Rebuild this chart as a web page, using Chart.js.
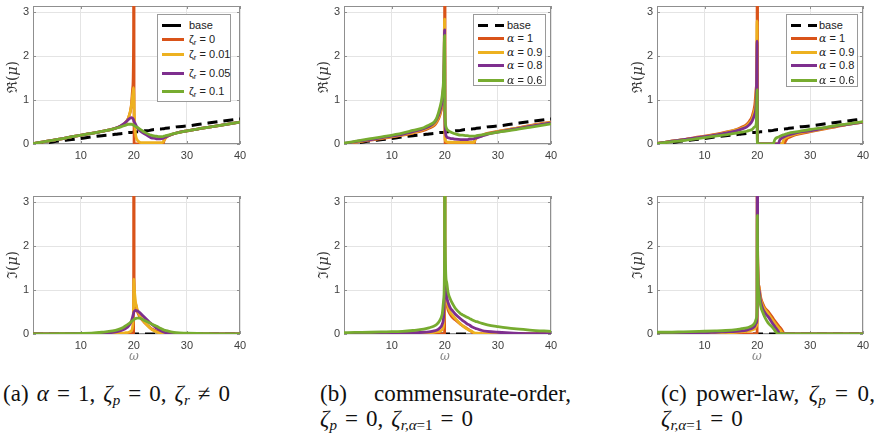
<!DOCTYPE html>
<html>
<head>
<meta charset="utf-8">
<title>Re and Im of mu</title>
<script src="https://cdn.jsdelivr.net/npm/chart.js@4.4.1/dist/chart.umd.min.js"></script>
<style>
  body { margin: 0; background: #fff; }
  #fig { position: relative; width: 886px; height: 436px; overflow: hidden; background: #fff; }
  #fig canvas { position: absolute; }
  .ylab { position: absolute; font-family: 'DejaVu Serif', serif; font-size: 14px; color: #333;
          transform: translate(-50%, -50%) rotate(-90deg); white-space: nowrap; }
  .xlab { position: absolute; top: 349px; font-family: 'DejaVu Serif', serif; font-style: italic;
          font-size: 12px; color: #888; transform: translateX(-50%); }
  .legend { position: absolute; box-sizing: border-box; background: #fff; border: 1px solid #9a9a9a;
            font-family: 'Liberation Sans', Arial, sans-serif; font-size: 11px; color: #222; }
  .legend .row { position: absolute; left: 0; right: 0; height: 0; }
  .legend .sw { position: absolute; height: 3px; top: -1px; }
  .legend .tx { position: absolute; top: -7px; line-height: 14px; white-space: nowrap; }
  .legend sub { font-size: 8px; vertical-align: -2px; line-height: 0; }
  .legend .gk { font-family: 'DejaVu Serif', serif; font-style: italic; }
  .cap { position: absolute; font-family: 'Liberation Serif', serif; font-size: 23px; line-height: 24px;
         letter-spacing: 0.1px; word-spacing: 2px; color: #111; white-space: nowrap; }
  .cap sub { font-size: 15px; vertical-align: -4px; line-height: 0; letter-spacing: 0; }
  .cap .op { margin: 0 8px; }
  .just { display: flex; justify-content: space-between; }
</style>
</head>
<body>
<div id="fig">
  <canvas id="a1" width="250" height="165" style="left:0px;top:0px"></canvas>
  <canvas id="a2" width="250" height="165" style="left:0px;top:190px"></canvas>
  <canvas id="b1" width="250" height="165" style="left:311px;top:0px"></canvas>
  <canvas id="b2" width="250" height="165" style="left:311px;top:190px"></canvas>
  <canvas id="c1" width="249" height="165" style="left:624px;top:0px"></canvas>
  <canvas id="c2" width="249" height="165" style="left:624px;top:190px"></canvas>

  <div class="ylab" style="left:11px;top:77px">ℜ(<i>μ</i>)</div>
  <div class="ylab" style="left:11px;top:265px">ℑ(<i>μ</i>)</div>
  <div class="ylab" style="left:322px;top:77px">ℜ(<i>μ</i>)</div>
  <div class="ylab" style="left:322px;top:265px">ℑ(<i>μ</i>)</div>
  <div class="ylab" style="left:636px;top:77px">ℜ(<i>μ</i>)</div>
  <div class="ylab" style="left:636px;top:265px">ℑ(<i>μ</i>)</div>

  <div class="xlab" style="left:134px">ω</div>
  <div class="xlab" style="left:445px">ω</div>
  <div class="xlab" style="left:757px">ω</div>

  <div class="cap" style="left:3px;top:382px">(a) <i>α</i><span class="op">=</span>1, <i>ζ<sub>p</sub></i><span class="op">=</span>0, <i>ζ<sub>r</sub></i><span class="op">≠</span>0</div>
  <div class="cap just" style="left:320px;top:382px;width:251px"><span>(b)</span><span>commensurate-order,</span></div>
  <div class="cap" style="left:320px;top:407px"><i>ζ<sub>p</sub></i><span class="op">=</span>0, <i>ζ</i><sub><i>r,α</i>=1</sub><span class="op">=</span>0</div>
  <div class="cap just" style="left:661px;top:382px;width:214px"><span>(c)</span><span>power-law,</span><span><i>ζ<sub>p</sub></i></span><span>=</span><span>0,</span></div>
  <div class="cap" style="left:661px;top:407px"><i>ζ</i><sub><i>r,α</i>=1</sub><span class="op">=</span>0</div>
</div>

<script>
// frequency grid (omega) shared by every curve
const omega = [1, 3, 6, 9, 12, 14, 16, 17, 18, 18.5, 19, 19.5, 19.8, 19.95, 20, 20.05, 20.3, 20.6,
               21, 21.5, 22, 23, 23.3, 24, 24.2, 24.7, 25, 25.5, 25.7, 26, 27, 28, 30, 33, 36, 40];

// base (no resonator)
const baseRe = [0.0, 0.02, 0.07, 0.11, 0.16, 0.19, 0.21, 0.23, 0.24, 0.25, 0.26, 0.26, 0.27, 0.27, 0.27, 0.27, 0.27, 0.28,
                0.28, 0.29, 0.30, 0.31, 0.32, 0.33, 0.33, 0.34, 0.34, 0.35, 0.35, 0.36, 0.37, 0.39, 0.41, 0.46, 0.51, 0.57];
const baseIm = [0, 0, 0, 0, 0, 0, 0, 0, 0, 0, 0, 0, 0, 0, 0, 0, 0, 0,
                0, 0, 0, 0, 0, 0, 0, 0, 0, 0, 0, 0, 0, 0, 0, 0, 0, 0];

// (a) alpha = 1, zeta_r = 0 / 0.01 / 0.05 / 0.1
const aRe0   = [0.01, 0.05, 0.11, 0.18, 0.24, 0.29, 0.34, 0.38, 0.44, 0.5, 0.6, 0.85, 1.3, 2.5, 12, 0, 0, 0,
                0, 0, 0, 0, 0, 0, 0, 0, 0, 0, 0.08, 0.14, 0.21, 0.25, 0.3, 0.36, 0.42, 0.5];
const aRe001 = [0.01, 0.05, 0.11, 0.18, 0.24, 0.29, 0.34, 0.38, 0.44, 0.5, 0.6, 0.85, 1.15, 1.28, 1.1, 0.8, 0.25, 0.1,
                0.05, 0.03, 0.03, 0.03, 0.03, 0.03, 0.03, 0.03, 0.03, 0.04, 0.09, 0.15, 0.21, 0.25, 0.3, 0.36, 0.42, 0.5];
const aRe005 = [0.01, 0.05, 0.11, 0.18, 0.24, 0.29, 0.34, 0.38, 0.45, 0.5, 0.56, 0.6, 0.58, 0.55, 0.52, 0.51, 0.45, 0.38,
                0.32, 0.27, 0.23, 0.16, 0.14, 0.13, 0.12, 0.12, 0.12, 0.13, 0.14, 0.16, 0.21, 0.25, 0.3, 0.36, 0.42, 0.5];
const aRe01  = [0.01, 0.05, 0.11, 0.18, 0.24, 0.29, 0.34, 0.37, 0.41, 0.43, 0.45, 0.45, 0.44, 0.43, 0.42, 0.42, 0.4, 0.38,
                0.35, 0.31, 0.27, 0.21, 0.2, 0.18, 0.18, 0.17, 0.17, 0.17, 0.18, 0.19, 0.22, 0.25, 0.3, 0.36, 0.42, 0.5];
const aIm0   = [0, 0, 0, 0, 0, 0, 0, 0, 0, 0, 0, 0, 0, 0, 12, 1.3, 0.7, 0.53,
                0.42, 0.33, 0.26, 0.15, 0.12, 0.08, 0.07, 0.04, 0.02, 0, 0, 0, 0, 0, 0, 0, 0, 0];
const aIm001 = [0, 0, 0, 0, 0.01, 0.01, 0.01, 0.02, 0.02, 0.03, 0.04, 0.07, 0.2, 0.7, 1.25, 1.1, 0.75, 0.58,
                0.45, 0.35, 0.27, 0.14, 0.11, 0.06, 0.05, 0.03, 0.02, 0.01, 0, 0, 0, 0, 0, 0, 0, 0];
const aIm005 = [0, 0, 0, 0.01, 0.01, 0.02, 0.04, 0.06, 0.1, 0.13, 0.18, 0.28, 0.4, 0.47, 0.5, 0.51, 0.54, 0.53,
                0.5, 0.44, 0.38, 0.26, 0.23, 0.16, 0.14, 0.1, 0.08, 0.05, 0.04, 0.03, 0.01, 0.01, 0, 0, 0, 0];
const aIm01  = [0, 0, 0.01, 0.01, 0.02, 0.04, 0.07, 0.1, 0.15, 0.19, 0.23, 0.28, 0.31, 0.32, 0.33, 0.33, 0.35, 0.36,
                0.36, 0.34, 0.31, 0.25, 0.23, 0.19, 0.18, 0.15, 0.13, 0.1, 0.09, 0.08, 0.05, 0.03, 0.02, 0.01, 0, 0];

// (b) commensurate-order, alpha = 1 / 0.9 / 0.8 / 0.6
const bRe1  = [0.0, 0.04, 0.09, 0.14, 0.2, 0.25, 0.31, 0.36, 0.42, 0.5, 0.63, 0.9, 1.4, 2.4, 12, 0, 0, 0,
               0, 0, 0, 0, 0, 0, 0, 0, 0, 0, 0.1, 0.15, 0.2, 0.24, 0.29, 0.35, 0.42, 0.5];
const bRe09 = [0.0, 0.04, 0.1, 0.15, 0.21, 0.26, 0.33, 0.38, 0.45, 0.53, 0.67, 0.95, 1.45, 2.84, 0.5, 0.1, 0.05, 0.04,
               0.04, 0.04, 0.04, 0.04, 0.04, 0.04, 0.04, 0.04, 0.04, 0.04, 0.1, 0.14, 0.19, 0.23, 0.28, 0.35, 0.41, 0.49];
const bRe08 = [0.01, 0.05, 0.1, 0.16, 0.22, 0.28, 0.35, 0.4, 0.48, 0.57, 0.72, 1.0, 1.5, 2.6, 0.8, 0.4, 0.17, 0.14,
               0.13, 0.12, 0.11, 0.1, 0.1, 0.1, 0.1, 0.11, 0.11, 0.12, 0.13, 0.14, 0.18, 0.22, 0.27, 0.34, 0.4, 0.48];
const bRe06 = [0.02, 0.06, 0.12, 0.18, 0.25, 0.31, 0.37, 0.43, 0.5, 0.6, 0.8, 1.1, 1.6, 2.47, 1.0, 0.6, 0.36, 0.31,
               0.28, 0.25, 0.23, 0.2, 0.2, 0.19, 0.19, 0.18, 0.18, 0.18, 0.18, 0.19, 0.21, 0.23, 0.27, 0.32, 0.38, 0.46];
const bIm1  = [0, 0, 0, 0, 0, 0, 0, 0, 0, 0, 0, 0, 0, 0, 12, 1.2, 0.7, 0.55,
               0.45, 0.37, 0.32, 0.22, 0.19, 0.14, 0.12, 0.08, 0.06, 0, 0, 0, 0, 0, 0, 0, 0, 0];
const bIm09 = [0, 0, 0.01, 0.01, 0.01, 0.02, 0.02, 0.03, 0.04, 0.05, 0.06, 0.1, 0.25, 0.8, 1.2, 1.1, 0.8, 0.62,
               0.5, 0.42, 0.35, 0.22, 0.19, 0.13, 0.11, 0.08, 0.06, 0.03, 0.02, 0.02, 0.01, 0, 0, 0, 0, 0];
const bIm08 = [0.01, 0.01, 0.02, 0.02, 0.03, 0.03, 0.04, 0.05, 0.07, 0.09, 0.13, 0.22, 0.45, 1.1, 1.4, 1.3, 0.9, 0.72,
               0.6, 0.52, 0.45, 0.34, 0.31, 0.25, 0.23, 0.2, 0.17, 0.14, 0.13, 0.12, 0.08, 0.06, 0.04, 0.02, 0.01, 0.01];
const bIm06 = [0.03, 0.035, 0.04, 0.05, 0.06, 0.08, 0.11, 0.14, 0.18, 0.22, 0.3, 0.45, 0.8, 2.0, 12, 2.2, 1.2, 0.95,
               0.8, 0.68, 0.58, 0.46, 0.44, 0.39, 0.38, 0.35, 0.33, 0.3, 0.29, 0.28, 0.24, 0.21, 0.17, 0.12, 0.09, 0.06];

// (c) power-law, alpha = 1 / 0.9 / 0.8 / 0.6
const cRe1  = [0.01, 0.05, 0.1, 0.16, 0.22, 0.27, 0.33, 0.38, 0.45, 0.52, 0.63, 0.88, 1.3, 2.5, 12, 0, 0, 0,
               0, 0, 0, 0, 0, 0, 0, 0, 0, 0.1, 0.13, 0.15, 0.2, 0.23, 0.28, 0.35, 0.42, 0.5];
const cRe09 = [0.01, 0.05, 0.1, 0.15, 0.21, 0.26, 0.32, 0.36, 0.42, 0.48, 0.57, 0.78, 1.15, 2.8, 0, 0, 0, 0,
               0, 0, 0, 0, 0, 0, 0, 0, 0.1, 0.15, 0.16, 0.18, 0.22, 0.25, 0.29, 0.36, 0.43, 0.5];
const cRe08 = [0.01, 0.05, 0.1, 0.15, 0.2, 0.25, 0.3, 0.34, 0.39, 0.44, 0.52, 0.68, 1.0, 2.34, 0, 0, 0, 0,
               0, 0, 0, 0, 0, 0, 0.08, 0.14, 0.16, 0.19, 0.2, 0.21, 0.24, 0.27, 0.3, 0.37, 0.43, 0.5];
const cRe06 = [0.01, 0.04, 0.08, 0.13, 0.18, 0.21, 0.25, 0.27, 0.29, 0.31, 0.33, 0.39, 0.48, 1.24, 0, 0, 0, 0,
               0, 0, 0, 0, 0.1, 0.16, 0.17, 0.2, 0.21, 0.23, 0.24, 0.25, 0.27, 0.29, 0.33, 0.38, 0.44, 0.51];
const cIm1  = [0, 0, 0, 0, 0, 0, 0, 0, 0, 0, 0, 0, 0, 0, 12, 1.9, 1.1, 0.85,
               0.7, 0.58, 0.52, 0.35, 0.3, 0.19, 0.16, 0.08, 0.02, 0, 0, 0, 0, 0, 0, 0, 0, 0];
const cIm09 = [0.01, 0.01, 0.01, 0.02, 0.02, 0.03, 0.04, 0.05, 0.06, 0.07, 0.09, 0.12, 0.17, 0.25, 4, 1.8, 1.05, 0.8,
               0.65, 0.55, 0.47, 0.3, 0.25, 0.14, 0.11, 0.03, 0, 0, 0, 0, 0, 0, 0, 0, 0, 0];
const cIm08 = [0.02, 0.02, 0.03, 0.03, 0.04, 0.05, 0.06, 0.07, 0.09, 0.11, 0.13, 0.18, 0.25, 0.4, 12, 1.8, 1.0, 0.75,
               0.58, 0.47, 0.4, 0.22, 0.17, 0.05, 0, 0, 0, 0, 0, 0, 0, 0, 0, 0, 0, 0];
const cIm06 = [0.04, 0.04, 0.05, 0.06, 0.07, 0.08, 0.1, 0.12, 0.14, 0.16, 0.19, 0.25, 0.35, 0.6, 2.7, 1.6, 0.9, 0.65,
               0.5, 0.36, 0.26, 0.13, 0.08, 0, 0, 0, 0, 0, 0, 0, 0, 0, 0, 0, 0, 0];

const xTicks = [10, 20, 30, 40];
const yTicks = [0, 1, 2, 3];
const legendZeta  = ['base', 'ζ<sub>r</sub> = 0', 'ζ<sub>r</sub> = 0.01', 'ζ<sub>r</sub> = 0.05', 'ζ<sub>r</sub> = 0.1'];
const legendAlpha = ['base', '<span class="gk">α</span> = 1', '<span class="gk">α</span> = 0.9',
                     '<span class="gk">α</span> = 0.8', '<span class="gk">α</span> = 0.6'];

const seriesColors = ['#D95319', '#EDB120', '#7E2F8E', '#77AC30'];
const tickFont = { family: 'Liberation Sans', size: 11 };

// matlab style box + inward tick marks
const boxPlugin = {
  id: 'matlabBox',
  beforeDatasetsDraw(chart) {
    const { ctx, chartArea: a, scales } = chart;
    ctx.save();
    ctx.strokeStyle = '#8f8f8f';
    ctx.lineWidth = 1;
    ctx.strokeRect(a.left + 0.5, a.top + 0.5, a.right - a.left - 1, a.bottom - a.top - 1);
    ctx.beginPath();
    scales.x.ticks.forEach(t => {
      const px = Math.round(scales.x.getPixelForValue(t.value)) + 0.5;
      ctx.moveTo(px, a.bottom); ctx.lineTo(px, a.bottom - 3);
      ctx.moveTo(px, a.top); ctx.lineTo(px, a.top + 3);
    });
    scales.y.ticks.forEach(t => {
      const py = Math.round(scales.y.getPixelForValue(t.value)) + 0.5;
      ctx.moveTo(a.left, py); ctx.lineTo(a.left + 3, py);
      ctx.moveTo(a.right, py); ctx.lineTo(a.right - 3, py);
    });
    ctx.stroke();
    ctx.restore();
  }
};

function pts(ys) {
  return omega.map((w, i) => ({ x: w, y: ys[i] }));
}

function drawPanel(id, base, curves) {
  const datasets = [{ data: pts(base), borderColor: '#000', borderDash: [10, 6], borderWidth: 3, order: 5 }];
  curves.forEach((ys, i) => datasets.push({ data: pts(ys), borderColor: seriesColors[i], order: 4 - i }));

  new Chart(document.getElementById(id), {
    type: 'line',
    data: { datasets },
    options: {
      responsive: false,
      animation: false,
      events: [],
      layout: { padding: { left: 0, top: 6, right: 10, bottom: 0 } },
      elements: {
        point: { radius: 0 },
        line: { borderWidth: 2.8, cubicInterpolationMode: 'monotone', borderJoinStyle: 'round' }
      },
      plugins: { legend: { display: false }, tooltip: { enabled: false } },
      scales: {
        x: {
          type: 'linear', min: 1, max: 40,
          afterBuildTicks: s => { s.ticks = xTicks.map(v => ({ value: v })); },
          afterFit: s => { s.height = 21; s.paddingLeft = 0; s.paddingRight = 0; },
          grid: { color: '#e4e4e4', drawTicks: false },
          border: { display: false },
          ticks: { padding: 5, color: '#404040', font: tickFont, maxRotation: 0 }
        },
        y: {
          min: 0, max: Math.PI,
          afterBuildTicks: s => { s.ticks = yTicks.map(v => ({ value: v })); },
          afterFit: s => { s.width = 33; s.paddingTop = 0; s.paddingBottom = 0; },
          grid: { color: '#e4e4e4', drawTicks: false },
          border: { display: false },
          ticks: { padding: 4, color: '#404040', font: tickFont }
        }
      }
    },
    plugins: [boxPlugin]
  });
}

function drawLegend(box, rows, labels, sw, textX, baseDashed) {
  const el = document.createElement('div');
  el.className = 'legend';
  el.style.left = box[0] + 'px';
  el.style.top = box[1] + 'px';
  el.style.width = box[2] + 'px';
  el.style.height = box[3] + 'px';
  labels.forEach((html, i) => {
    const row = document.createElement('div');
    row.className = 'row';
    row.style.top = rows[i] + 'px';
    const s = document.createElement('div');
    s.className = 'sw';
    s.style.left = sw[0] + 'px';
    if (i === 0) {
      s.style.width = (baseDashed ? sw[1] - sw[0] : sw[1] - sw[0] - 3) + 'px';
      s.style.background = baseDashed
        ? 'repeating-linear-gradient(90deg, #000 0 10px, transparent 10px 17px)' : '#000';
    } else {
      s.style.width = (sw[1] - sw[0]) + 'px';
      s.style.background = seriesColors[i - 1];
    }
    const t = document.createElement('div');
    t.className = 'tx';
    t.style.left = textX + 'px';
    t.innerHTML = html;
    row.appendChild(s);
    row.appendChild(t);
    el.appendChild(row);
  });
  document.getElementById('fig').appendChild(el);
}

drawPanel('a1', baseRe, [aRe0, aRe001, aRe005, aRe01]);
drawPanel('a2', baseIm, [aIm0, aIm001, aIm005, aIm01]);
drawPanel('b1', baseRe, [bRe1, bRe09, bRe08, bRe06]);
drawPanel('b2', baseIm, [bIm1, bIm09, bIm08, bIm06]);
drawPanel('c1', baseRe, [cRe1, cRe09, cRe08, cRe06]);
drawPanel('c2', baseIm, [cIm1, cIm09, cIm08, cIm06]);

drawLegend([157, 14, 74, 88], [10, 23.5, 39, 57.5, 76], legendZeta, [4, 26], 31, false);
drawLegend([473, 14, 73, 72], [10, 23.3, 36.7, 50.3, 64.7], legendAlpha, [4, 30], 33, true);
drawLegend([786, 14, 72, 73], [10, 23.3, 36.7, 50.3, 64.7], legendAlpha, [4, 30], 32, true);
</script>
</body>
</html>
